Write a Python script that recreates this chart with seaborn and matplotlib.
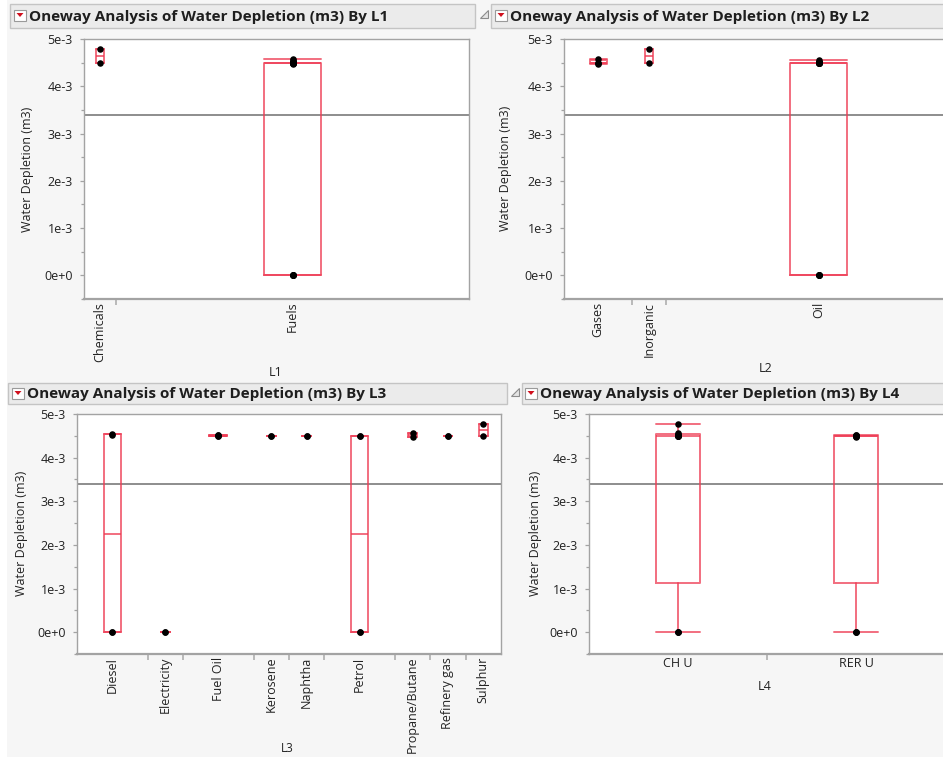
import numpy as np
import pandas as pd
import matplotlib
matplotlib.use("Agg")
import matplotlib.pyplot as plt
from matplotlib.patches import Rectangle, Polygon
from matplotlib.ticker import FixedLocator, FixedFormatter, NullFormatter
import seaborn as sns

# ---------------------------------------------------------------------------
# Records: level-3 process, region (L4) and water depletion in m3
# ---------------------------------------------------------------------------
L3 = ["Diesel", "Diesel", "Diesel", "Diesel",
      "Electricity", "Electricity",
      "Fuel Oil", "Fuel Oil", "Fuel Oil", "Fuel Oil",
      "Kerosene", "Kerosene",
      "Naphtha", "Naphtha",
      "Petrol", "Petrol", "Petrol", "Petrol",
      "Propane/Butane", "Propane/Butane",
      "Refinery gas", "Refinery gas",
      "Sulphur", "Sulphur"]
L4 = ["CH U", "CH U", "RER U", "RER U",
      "CH U", "RER U",
      "CH U", "CH U", "RER U", "RER U",
      "CH U", "RER U",
      "CH U", "RER U",
      "CH U", "CH U", "RER U", "RER U",
      "CH U", "RER U",
      "CH U", "RER U",
      "CH U", "RER U"]
water_depletion = [0.0, 4.55e-3, 0.0, 4.52e-3,
                   0.0, 0.0,
                   4.52e-3, 4.50e-3, 4.50e-3, 4.51e-3,
                   4.49e-3, 4.49e-3,
                   4.49e-3, 4.49e-3,
                   0.0, 4.50e-3, 0.0, 4.49e-3,
                   4.57e-3, 4.48e-3,
                   4.50e-3, 4.50e-3,
                   4.78e-3, 4.49e-3]

# Upper levels of the category tree
L2_of_L3 = {"Diesel": "Oil", "Electricity": "Oil", "Fuel Oil": "Oil",
            "Kerosene": "Oil", "Naphtha": "Oil", "Petrol": "Oil",
            "Propane/Butane": "Gases", "Refinery gas": "Gases",
            "Sulphur": "Inorganic"}
L1_of_L2 = {"Oil": "Fuels", "Gases": "Fuels", "Inorganic": "Chemicals"}

L1_order = ["Chemicals", "Fuels"]
L2_order = ["Gases", "Inorganic", "Oil"]
L3_order = ["Diesel", "Electricity", "Fuel Oil", "Kerosene", "Naphtha",
            "Petrol", "Propane/Butane", "Refinery gas", "Sulphur"]
L4_order = ["CH U", "RER U"]

y_major = [0.0, 1e-3, 2e-3, 3e-3, 4e-3, 5e-3]
y_major_labels = ["0e+0", "1e-3", "2e-3", "3e-3", "4e-3", "5e-3"]
y_minor = [-0.5e-3, 0.5e-3, 1.5e-3, 2.5e-3, 3.5e-3, 4.5e-3]

VAL = "Water Depletion (m3)"
df = pd.DataFrame({"L3": L3, "L4": L4, VAL: water_depletion})
df["L2"] = df["L3"].map(L2_of_L3)
df["L1"] = df["L2"].map(L1_of_L2)

# ---------------------------------------------------------------------------
# Styling
# ---------------------------------------------------------------------------
sns.set_style("white")
plt.rcParams["font.family"] = ["Open Sans", "DejaVu Sans"]

BG = "#f6f6f6"
FRAME = "#a3a3a3"
BOX_RED = "#ee3d55"
MEAN_GRAY = "#6f6f6f"

W, H = 943, 757
fig = plt.figure(figsize=(W / 100, H / 100), dpi=100, facecolor=BG)


def axes_px(x0, y0, x1, y1):
    """Axes placed by pixel box (origin top-left)."""
    return fig.add_axes([x0 / W, 1 - y1 / H, (x1 - x0) / W, (y1 - y0) / H])


# Overlay in pixel coordinates for title bars, icons and axis titles
ov = axes_px(0, 0, W, H)
ov.set_xlim(0, W)
ov.set_ylim(H, 0)
ov.axis("off")
ov.set_zorder(0)
ov.add_patch(Rectangle((0, 0), 7, H, facecolor="white", edgecolor="none"))

panels = [
    dict(by="L1", order=L1_order, plot=(84, 39, 469, 299), bar=(10, 4, 475, 28),
         icon=(14, 10), tri=None, ylab=(27, 169), xlab=(276, 372), rot=90),
    dict(by="L2", order=L2_order, plot=(564, 39, 972, 299), bar=(491, 4, 960, 28),
         icon=(495, 10), tri=(480, 10), ylab=(506, 168), xlab=(766, 368), rot=90),
    dict(by="L3", order=L3_order, plot=(77, 414, 501, 654), bar=(8, 383, 507, 404),
         icon=(12, 388), tri=None, ylab=(22, 533), xlab=(287, 755), rot=90),
    dict(by="L4", order=L4_order, plot=(589, 414, 945, 654), bar=(522, 383, 960, 404),
         icon=(525, 388), tri=(511, 388), ylab=(535, 533), xlab=(765, 686), rot=0),
]

grand_mean = df[VAL].mean()

for p in panels:
    by, order = p["by"], p["order"]
    x0, y0, x1, y1 = p["plot"]

    # ---- title bar -------------------------------------------------------
    bx0, by0, bx1, by1 = p["bar"]
    ov.add_patch(Rectangle((bx0, by0), bx1 - bx0, by1 - by0,
                           facecolor="#ebebeb", edgecolor="#c4c4c4", lw=1))
    ix, iy = p["icon"]
    ov.add_patch(Rectangle((ix, iy), 12, 11, facecolor="white",
                           edgecolor="#9a9a9a", lw=0.8))
    ov.add_patch(Polygon([(ix + 2.5, iy + 3), (ix + 9.5, iy + 3), (ix + 6, iy + 7)],
                         closed=True, facecolor="#d0101e", edgecolor="none"))
    if p["tri"] is not None:
        tx, ty = p["tri"]
        ov.add_patch(Polygon([(tx, ty + 7.5), (tx + 8, ty + 7.5), (tx + 8, ty)],
                             closed=True, facecolor="#e4e4e4",
                             edgecolor="#8c8c8c", lw=0.8))
    ov.text(ix + 15, (by0 + by1) / 2 + 0.5,
            f"Oneway Analysis of Water Depletion (m3) By {by}",
            ha="left", va="center", fontsize=11, fontweight="bold", color="#1e1e1e")

    # axis titles
    ov.text(*p["ylab"], VAL, rotation=90, ha="center", va="center",
            fontsize=9, color="#222222")
    ov.text(*p["xlab"], by, ha="center", va="bottom" if by == "L3" else "center",
            fontsize=8.5 if by == "L3" else 9, color="#222222")

    # ---- plot area -------------------------------------------------------
    ax = axes_px(x0, y0, x1, y1)
    ax.set_zorder(2)
    ax.set_facecolor("white")

    counts = df[by].value_counts().reindex(order).to_numpy()
    edges = np.concatenate([[0], np.cumsum(counts)])
    centers = (edges[:-1] + edges[1:]) / 2
    pos = dict(zip(order, centers))
    px_per_row = (x1 - x0) / len(df)

    stats, widths = [], []
    for g, n in zip(order, counts):
        v = df.loc[df[by] == g, VAL].to_numpy()
        q1, med, q3 = np.percentile(v, [25, 50, 75], method="weibull")
        stats.append(dict(med=med, q1=q1, q3=q3,
                          whislo=v.min(), whishi=v.max(), fliers=[]))
        widths.append(min(0.25 * n, 57 / px_per_row))

    line_kw = dict(color=BOX_RED, lw=1.4, alpha=0.75)
    ax.bxp(stats, positions=centers, widths=widths, capwidths=widths,
           showfliers=False, manage_ticks=False,
           boxprops=line_kw, medianprops=line_kw,
           whiskerprops=line_kw, capprops=line_kw)

    ax.axhline(grand_mean, color=MEAN_GRAY, lw=1.1, zorder=1.5)

    pts = df.assign(xpos=df[by].map(pos))
    sns.scatterplot(data=pts, x="xpos", y=VAL, ax=ax, color="black", s=22,
                    linewidth=0, legend=False, zorder=5)

    ax.set_xlim(0, len(df))
    ax.set_ylim(-0.5e-3, 5e-3)
    ax.set_xlabel("")
    ax.set_ylabel("")

    # x: separators as major ticks, category names as minor tick labels
    ax.xaxis.set_major_locator(FixedLocator(edges[1:-1]))
    ax.xaxis.set_major_formatter(NullFormatter())
    ax.xaxis.set_minor_locator(FixedLocator(centers))
    ax.xaxis.set_minor_formatter(FixedFormatter(order))
    ax.tick_params(axis="x", which="major", bottom=True, length=4,
                   width=1.3, color="#b4b4b4")
    ax.tick_params(axis="x", which="minor", bottom=True, length=0, pad=2,
                   labelsize=9, labelrotation=p["rot"], labelcolor="#222222")

    # y: labelled majors, unlabelled half-step minors
    ax.yaxis.set_major_locator(FixedLocator(y_major))
    ax.yaxis.set_major_formatter(FixedFormatter(y_major_labels))
    ax.yaxis.set_minor_locator(FixedLocator(y_minor))
    ax.tick_params(axis="y", which="major", left=True, length=3, width=0.9,
                   color=FRAME, pad=5, labelsize=9, labelcolor="#222222")
    ax.tick_params(axis="y", which="minor", left=True, length=2, width=0.9,
                   color=FRAME)

    for side, sp in ax.spines.items():
        sp.set_visible(True)
        sp.set_color(FRAME)
        sp.set_linewidth(1.6 if side == "bottom" else 1.0)

fig.savefig("out.png", dpi=100, facecolor=BG)
